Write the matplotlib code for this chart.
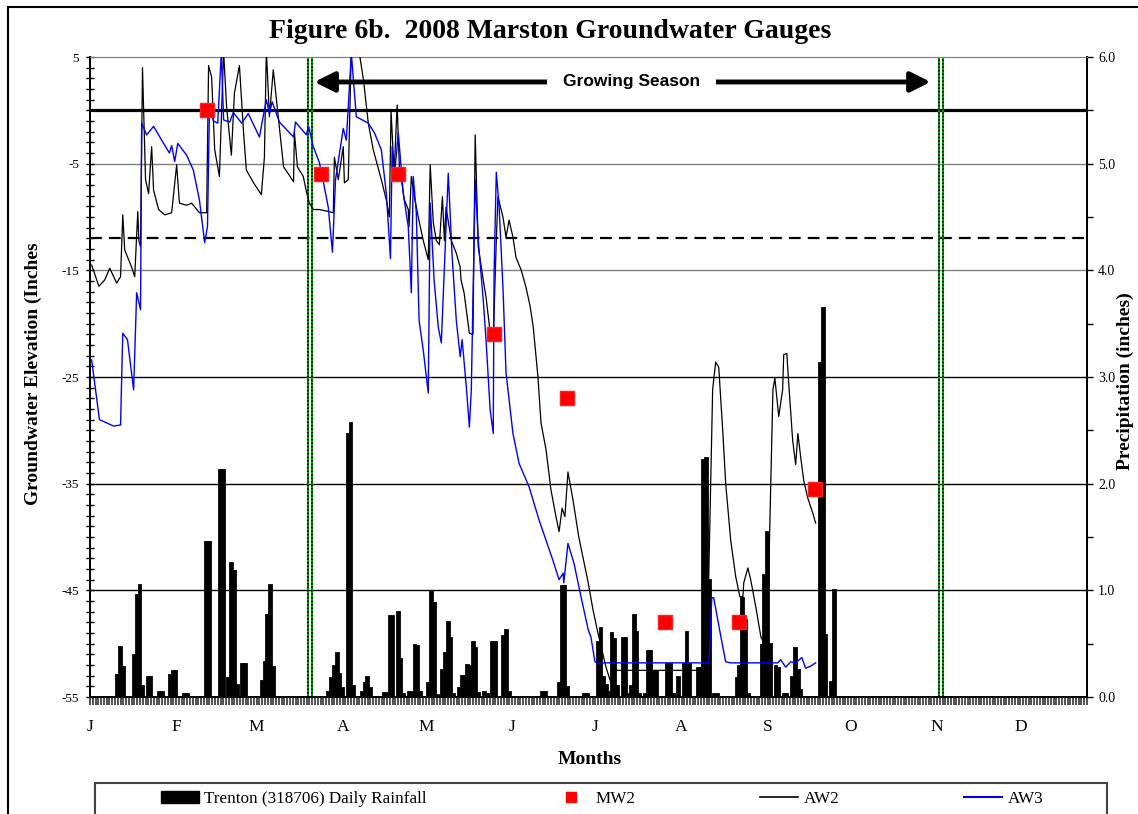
import numpy as np
import matplotlib.pyplot as plt
from matplotlib.patches import Rectangle, Patch
from matplotlib.lines import Line2D
from matplotlib.ticker import MultipleLocator, FormatStrFormatter

plt.rcParams['font.family'] = ['Liberation Serif', 'DejaVu Serif']
plt.rcParams['axes.unicode_minus'] = False

# ---- data: x is day of year 2008 (Jan 1 = 0) ----
month_labels = ['J', 'F', 'M', 'A', 'M', 'J', 'J', 'A', 'S', 'O', 'N', 'D']
month_starts = [0, 31, 60, 91, 121, 152, 182, 213, 244, 274, 305, 335]

# Trenton (318706) daily rainfall, inches
rain_day = [10, 11, 12, 16, 17, 18, 19, 21, 22, 25,
            26, 29, 30, 31, 34, 35, 42, 43, 47, 48,
            50, 51, 52, 53, 55, 56, 62, 63, 64, 65,
            66, 86, 87, 88, 89, 90, 91, 93, 94, 95,
            98, 99, 100, 101, 106, 107, 108, 109, 111, 112,
            113, 115, 116, 117, 118, 119, 122, 123, 124, 125,
            127, 128, 129, 130, 131, 133, 134, 135, 136, 137,
            138, 139, 140, 142, 143, 145, 146, 149, 150, 151,
            163, 164, 169, 170, 171, 172, 178, 179, 183, 184,
            185, 186, 187, 188, 189, 190, 192, 193, 194, 195,
            196, 197, 198, 200, 201, 202, 203, 204, 208, 209,
            210, 212, 214, 215, 216, 219, 220, 221, 222, 223,
            225, 226, 233, 234, 235, 236, 237, 242, 243, 244,
            245, 247, 248, 250, 251, 253, 254, 255, 256, 263,
            264, 265, 267, 268]
rain_in = [0.21, 0.47, 0.28, 0.39, 0.96, 1.05, 0.10, 0.19, 0.19, 0.05,
           0.05, 0.21, 0.24, 0.24, 0.03, 0.03, 1.45, 1.45, 2.13, 2.13,
           0.18, 1.26, 1.18, 0.11, 0.31, 0.31, 0.15, 0.33, 0.77, 1.05,
           0.28, 0.05, 0.18, 0.29, 0.41, 0.22, 0.08, 2.47, 2.57, 0.10,
           0.05, 0.13, 0.19, 0.08, 0.04, 0.04, 0.76, 0.76, 0.80, 0.36,
           0.03, 0.05, 0.05, 0.49, 0.48, 0.05, 0.13, 0.98, 0.88, 0.02,
           0.25, 0.41, 0.70, 0.55, 0.03, 0.08, 0.20, 0.20, 0.30, 0.29,
           0.52, 0.46, 0.04, 0.05, 0.03, 0.52, 0.52, 0.57, 0.63, 0.05,
           0.05, 0.05, 0.13, 1.04, 1.04, 0.09, 0.03, 0.03, 0.52, 0.65,
           0.19, 0.11, 0.05, 0.60, 0.54, 0.10, 0.55, 0.55, 0.03, 0.10,
           0.77, 0.61, 0.03, 0.03, 0.43, 0.43, 0.24, 0.24, 0.31, 0.31,
           0.03, 0.19, 0.31, 0.61, 0.31, 0.27, 0.27, 2.22, 2.24, 1.10,
           0.03, 0.03, 0.18, 0.29, 0.93, 0.72, 0.03, 0.49, 1.14, 1.55,
           0.50, 0.29, 0.27, 0.03, 0.03, 0.19, 0.46, 0.25, 0.07, 3.13,
           3.65, 0.58, 0.14, 1.00]

# AW2 gauge, groundwater elevation (inches)
aw2_day = [0.6, 3.2, 5.3, 7.1, 9.6, 11.0, 11.8, 12.5, 15.0, 16.1,
           17.2, 17.6, 18.2, 18.9, 20.0, 21.1, 22.2, 22.9, 24.7, 26.9,
           29.4, 31.2, 32.2, 34.8, 36.6, 39.4, 42.0, 42.7, 43.8, 44.9,
           46.6, 48.1, 49.2, 50.9, 52.0, 53.8, 55.3, 56.3, 58.9, 61.7,
           62.8, 63.5, 64.6, 66.0, 67.8, 69.7, 71.8, 73.3, 73.6, 74.7,
           76.8, 77.9, 79.0, 80.4, 82.6, 86.2, 87.6, 88.0, 89.4, 91.2,
           91.6, 93.0, 94.1, 96.3, 98.5, 100.2, 102.0, 104.9, 106.7, 107.8,
           108.4, 109.5, 110.6, 111.4, 113.2, 114.6, 114.9, 115.7, 116.8, 118.2,
           120.0, 121.8, 122.5, 123.6, 124.7, 125.8, 126.9, 127.6, 128.2, 130.1,
           131.9, 133.3, 133.6, 134.7, 136.6, 137.9, 138.7, 139.8, 141.6, 142.6,
           144.4, 145.2, 146.3, 146.9, 148.7, 149.8, 150.9, 152.3, 153.4, 155.3,
           157.0, 158.5, 159.6, 161.3, 162.4, 164.2, 166.0, 167.8, 168.9, 170.0,
           171.0, 172.1, 173.9, 176.0, 179.4, 181.1, 182.9, 185.8, 187.6, 189.4,
           218.8, 222.1, 224.2, 225.3, 226.4, 227.9, 228.9, 230.7, 232.5, 234.0,
           235.1, 235.4, 236.9, 237.9, 239.7, 241.6, 242.6, 243.7, 245.9, 246.6,
           248.0, 249.4, 249.8, 250.9, 251.6, 253.0, 254.1, 254.9, 255.9, 257.0,
           258.4, 260.3, 261.3]
aw2_elev = [-14.5, -16.5, -15.9, -14.8, -16.2, -15.6, -9.8, -13.1, -14.7, -15.6,
            -9.5, -12.2, -12.8, 4.0, -6.5, -7.8, -3.4, -7.5, -9.3, -9.8,
            -9.6, -5.1, -8.7, -8.9, -8.7, -9.6, -9.6, 4.2, 3.1, -3.7,
            -6.2, 5.5, 0.3, -4.2, 1.6, 4.2, -2.1, -5.6, -6.8, -7.9,
            -4.4, 5.7, -0.6, 3.8, -0.6, -5.3, -6.1, -6.7, -2.1, -5.3,
            -6.2, -7.6, -8.7, -9.3, -9.3, -9.5, -9.6, -4.4, -6.5, -3.4,
            -6.8, -6.5, 6.0, 6.5, 2.8, -1.2, -3.7, -6.5, -8.4, -10.0,
            0.0, -5.9, 0.5, -5.3, -8.4, -9.3, -10.9, -6.2, -8.1, -10.0,
            -12.2, -14.0, -5.1, -10.5, -12.2, -12.6, -8.1, -12.2, -9.1, -12.2,
            -13.4, -14.7, -15.9, -17.1, -20.9, -21.0, -2.3, -12.8, -15.9, -17.5,
            -21.5, -21.5, -12.2, -8.1, -10.0, -11.9, -10.3, -11.9, -13.8, -15.0,
            -16.6, -18.4, -20.3, -25.0, -29.3, -31.8, -35.6, -38.1, -39.5, -37.3,
            -38.1, -33.9, -36.5, -40.0, -44.3, -46.8, -49.0, -52.2, -53.7, -52.5,
            -52.5, -52.5, -26.2, -23.6, -24.1, -30.3, -35.0, -40.3, -43.7, -45.6,
            -45.6, -44.3, -42.9, -44.0, -46.5, -49.4, -49.9, -51.5, -26.2, -25.1,
            -28.7, -26.2, -22.9, -22.8, -25.6, -30.9, -33.2, -30.3, -32.5, -34.7,
            -36.3, -37.8, -38.7]

# AW3 gauge, groundwater elevation (inches)
aw3_day = [0.6, 3.4, 6.0, 8.5, 11.0, 11.8, 13.5, 15.7, 16.8, 18.2,
           18.6, 20.4, 22.9, 25.8, 28.6, 29.4, 30.5, 31.6, 34.8, 37.2,
           39.4, 41.3, 42.3, 43.0, 44.5, 46.0, 47.3, 48.1, 50.3, 51.6,
           54.6, 57.0, 61.0, 63.5, 64.6, 65.6, 68.2, 73.3, 74.0, 77.9,
           78.7, 80.4, 82.6, 84.4, 85.8, 87.3, 88.4, 91.2, 92.3, 94.1,
           95.9, 100.2, 102.4, 104.9, 106.7, 108.2, 108.8, 109.5, 111.0, 112.8,
           114.6, 115.7, 116.4, 117.5, 118.5, 120.0, 121.8, 122.5, 123.9, 125.4,
           126.5, 129.0, 130.4, 131.9, 133.3, 134.0, 135.5, 136.6, 137.3, 138.7,
           139.8, 141.6, 142.6, 143.3, 144.1, 145.2, 145.5, 146.3, 147.3, 148.7,
           149.8, 152.3, 154.5, 158.1, 161.7, 164.2, 166.7, 168.9, 170.4, 170.6,
           172.1, 174.3, 176.8, 179.4, 180.4, 181.8, 183.3, 185.0, 222.9, 223.9,
           224.6, 227.2, 228.9, 230.7, 247.6, 248.7, 250.5, 252.3, 254.1, 256.3,
           257.7, 259.5, 261.3]
aw3_elev = [-23.4, -29.0, -29.3, -29.6, -29.5, -20.9, -21.5, -26.2, -17.1, -18.7,
            -1.2, -2.3, -1.5, -2.8, -4.0, -3.3, -4.8, -3.1, -4.2, -5.6,
            -8.4, -12.4, -10.9, 0.0, -1.0, -1.2, 5.5, -0.9, -1.1, -0.2,
            -1.2, -0.3, -2.5, 1.0, -0.3, 0.8, -1.1, -2.5, -1.1, -2.3,
            -1.5, -3.4, -4.9, -7.2, -9.1, -13.3, -6.5, -1.7, -2.8, 5.3,
            -0.6, -1.2, -2.1, -3.7, -7.8, -13.9, -3.4, -6.5, -2.1, -7.8,
            -10.9, -17.1, -6.2, -9.6, -19.7, -22.5, -26.5, -8.7, -15.9, -20.3,
            -21.8, -5.9, -13.7, -19.7, -23.1, -21.5, -25.9, -29.7, -26.2, -6.5,
            -12.2, -17.8, -21.5, -24.6, -28.1, -30.3, -15.3, -5.8, -9.0, -16.6,
            -24.6, -30.3, -33.1, -35.3, -38.4, -40.3, -42.2, -44.0, -43.4, -44.3,
            -40.6, -42.5, -45.6, -48.7, -49.4, -51.7, -51.9, -51.8, -51.8, -45.7,
            -45.7, -49.4, -51.7, -51.8, -51.8, -51.5, -52.2, -51.7, -51.8, -51.3,
            -52.3, -52.1, -51.8]

# MW2 monitoring well readings
mw2_day = [42.3, 83.3, 111.0, 145.5, 171.7, 207.0, 233.6, 261.0]
mw2_elev = [0.0, -6.0, -6.0, -21.0, -27.0, -48.0, -48.0, -35.5]

ground_surface = 0.0
root_zone = -12.0
season_lines = [78.5, 79.8, 305.6, 307.0]
season_start, season_end = 80.8, 302.7
season_label_day = 195.0

# ---- figure ----
W, H = 1138, 814
fig = plt.figure(figsize=(W / 100, H / 100), dpi=100)
ax = fig.add_axes([90 / W, 1 - 697 / H, 997 / W, 640 / H])
ax2 = ax.twinx()
ax.set_zorder(ax2.get_zorder() + 1)
ax.patch.set_visible(False)

# precipitation axis (behind)
ax2.set_ylim(0, 6)
grid_colors = {1: 'black', 2: 'black', 3: 'black', 4: '#808080', 5: '#808080'}
for g, c in grid_colors.items():
    ax2.axhline(g, color=c, lw=1.0, zorder=0)
ax2.bar(rain_day, rain_in, width=1.0, color='black', edgecolor='black',
        linewidth=1.3, zorder=2)
ax2.set_yticks([0, 1, 2, 3, 4, 5, 6])
ax2.yaxis.set_major_formatter(FormatStrFormatter('%.1f'))
ax2.yaxis.set_minor_locator(MultipleLocator(0.5))
ax2.tick_params(axis='y', which='both', direction='out', length=4, width=1,
                labelsize=10, pad=4)

# groundwater axis (front)
ax.set_xlim(0, 359)
ax.set_ylim(-55, 5)
ax.axhline(ground_surface, color='black', lw=2.3, zorder=1.5)
ax.axhline(root_zone, color='black', lw=1.6, dashes=(5.3, 3.2), zorder=1.5)
for d in season_lines:
    ax.axvline(d, color='#00a000', lw=1.5, zorder=1.6)
    ax.axvline(d, color='black', lw=1.1, ls=(0, (1, 1.3)), zorder=1.7)

ax.plot(aw2_day, aw2_elev, color='black', lw=0.9, zorder=3)
ax.plot(aw3_day, aw3_elev, color='#0000ff', lw=1.0, zorder=3.1)
ax.plot(mw2_day, mw2_elev, ls='none', marker='s', ms=9.5, color='#ff0000',
        mec='#ff2020', zorder=5)

arrow_y = 2.66
ax.annotate('', xy=(season_end, arrow_y), xytext=(season_start, arrow_y),
            arrowprops=dict(arrowstyle='<|-|>,head_length=0.8,head_width=0.4',
                            lw=3.5, color='black', shrinkA=0, shrinkB=0,
                            mutation_scale=15), zorder=4)
ax.text(season_label_day, arrow_y, 'Growing Season',
        family='Liberation Sans', fontweight='bold', fontsize=12.5,
        ha='center', va='center', zorder=4.5,
        bbox=dict(boxstyle='square,pad=0.9', fc='white', ec='none'))

ax.set_yticks([5, -5, -15, -25, -35, -45, -55])
ax.yaxis.set_minor_locator(MultipleLocator(1))
ax.tick_params(axis='y', which='both', direction='inout', length=6, width=1,
               labelsize=9.5, pad=5)
ax.set_xticks(month_starts)
ax.set_xticklabels(month_labels, fontsize=12.5)
ax.xaxis.remove_overlapping_locs = False
ax.xaxis.set_minor_locator(MultipleLocator(1))
ax.tick_params(axis='x', which='major', length=0, pad=16)
ax.tick_params(axis='x', which='minor', direction='out', length=6, width=1.3,
               color='#444444')

for a in (ax, ax2):
    a.spines['top'].set_color('#808080')
    a.spines['left'].set_linewidth(1.3)
    a.spines['right'].set_linewidth(1.3)
    a.spines['bottom'].set_linewidth(1.3)

# ---- text ----
fig.text(550 / W, 1 - 31 / H, 'Figure 6b.  2008 Marston Groundwater Gauges',
         fontsize=20, fontweight='bold', ha='center', va='center')
fig.text(33 / W, 1 - 374 / H, 'Groundwater Elevation (Inches', fontsize=14,
         fontweight='bold', rotation=90, ha='center', va='center')
fig.text(1125 / W, 1 - 381 / H, 'Precipitation (inches)', fontsize=14,
         fontweight='bold', rotation=90, ha='center', va='center')
fig.text(590 / W, 1 - 760 / H, 'Months', fontsize=14, fontweight='bold',
         ha='center', va='center')

# ---- legend ----
handles = [Patch(facecolor='black', edgecolor='black'),
           Line2D([], [], ls='none', marker='s', ms=7.5, color='#ff0000'),
           Line2D([], [], color='black', lw=1.2),
           Line2D([], [], color='#0000ff', lw=1.5)]
labels = ['Trenton (318706) Daily Rainfall', 'MW2', 'AW2', 'AW3']
fig.legend(handles, labels, loc='center', bbox_to_anchor=(602 / W, 1 - 799 / H),
           ncol=4, frameon=False, fontsize=12.3, handlelength=2.25,
           handletextpad=0.3, columnspacing=7.3)
fig.patches.append(Rectangle((95 / W, -0.05), (1107 - 95) / W, 0.05 + (814 - 783) / H,
                             transform=fig.transFigure, fill=False,
                             edgecolor='#444444', lw=1.5))
fig.patches.append(Rectangle((8 / W, -0.05), 1.2, 0.05 + (814 - 7) / H,
                             transform=fig.transFigure, fill=False,
                             edgecolor='black', lw=1.5))

fig.savefig('out.png', dpi=100)
